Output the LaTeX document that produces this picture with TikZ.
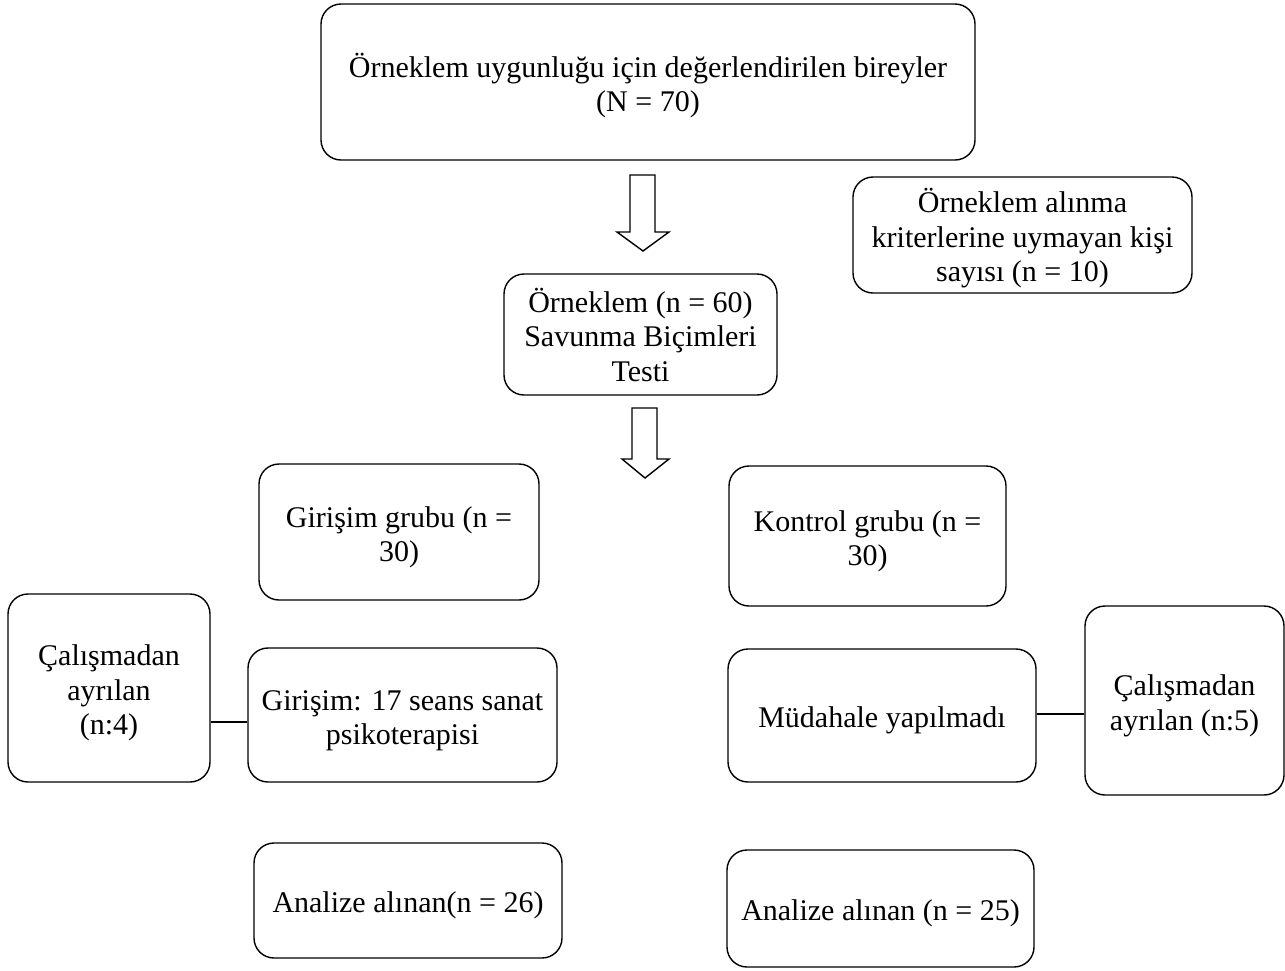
\documentclass[tikz,border=0pt]{standalone}
\usepackage{fontspec}
\setmainfont{Liberation Serif}
\newcommand\dntext[1]{\raisebox{0pt}[\dimexpr\height+11pt\relax]{\begin{tabular}{@{}c@{}}#1\end{tabular}}}
\begin{document}
\begin{tikzpicture}[x=1pt,y=-1pt,
  box/.style={draw, line width=1.4pt, rounded corners=20pt, inner sep=0pt, align=center,
    font=\fontsize{30}{34.5}\selectfont},
  blockarrow/.style={draw, line width=1.4pt, fill=white, line join=miter},
  link/.style={draw, line width=1.4pt}]
\useasboundingbox (0,0) rectangle (1285,970);
\node[box, minimum width=654pt, minimum height=156pt] (top) at (648,82) {\dntext{Örneklem uygunluğu için değerlendirilen bireyler\\(N = 70)}};
\node[box, minimum width=339pt, minimum height=116pt] (excl) at (1022.5,235) {\dntext{Örneklem alınma\\kriterlerine uymayan kişi\\sayısı (n = 10)}};
\node[box, minimum width=273pt, minimum height=121pt] (mid) at (640.5,334.5) {\dntext{Örneklem (n = 60)\\Savunma Biçimleri\\Testi}};
\node[box, minimum width=280pt, minimum height=136pt] (gir) at (399,532) {\dntext{Girişim grubu (n =\\30)}};
\node[box, minimum width=277pt, minimum height=140pt] (kon) at (867.5,536) {\dntext{Kontrol grubu (n =\\30)}};
\node[box, minimum width=202pt, minimum height=188pt] (cal4) at (109,688) {\dntext{Çalışmadan\\ayrılan\\(n:4)}};
\node[box, minimum width=309pt, minimum height=134pt] (giri) at (402.5,715) {\dntext{Girişim: 17 seans sanat\\psikoterapisi}};
\node[box, minimum width=308pt, minimum height=133pt] (mud) at (882,715.5) {\dntext{Müdahale yapılmadı}};
\node[box, minimum width=199pt, minimum height=189pt] (cal5) at (1184.5,700.5) {\dntext{Çalışmadan\\ayrılan (n:5)}};
\node[box, minimum width=308pt, minimum height=115pt] (an26) at (408,900.5) {\dntext{Analize alınan(n = 26)}};
\node[box, minimum width=307pt, minimum height=117pt] (an25) at (880.5,908.5) {\dntext{Analize alınan (n = 25)}};
% block arrows
\path[blockarrow] (630,175) -- (655,175) -- (655,232) -- (669,232) -- (643,251) -- (617,232) -- (630,232) -- cycle;
\path[blockarrow] (632,408) -- (657,408) -- (657,459) -- (669,459) -- (645,478) -- (622,459) -- (632,459) -- cycle;
% links
\draw[link] (cal4.east |- 0,722) -- (giri.west |- 0,722);
\draw[link] (mud.east |- 0,714) -- (cal5.west |- 0,714);
\end{tikzpicture}
\end{document}
